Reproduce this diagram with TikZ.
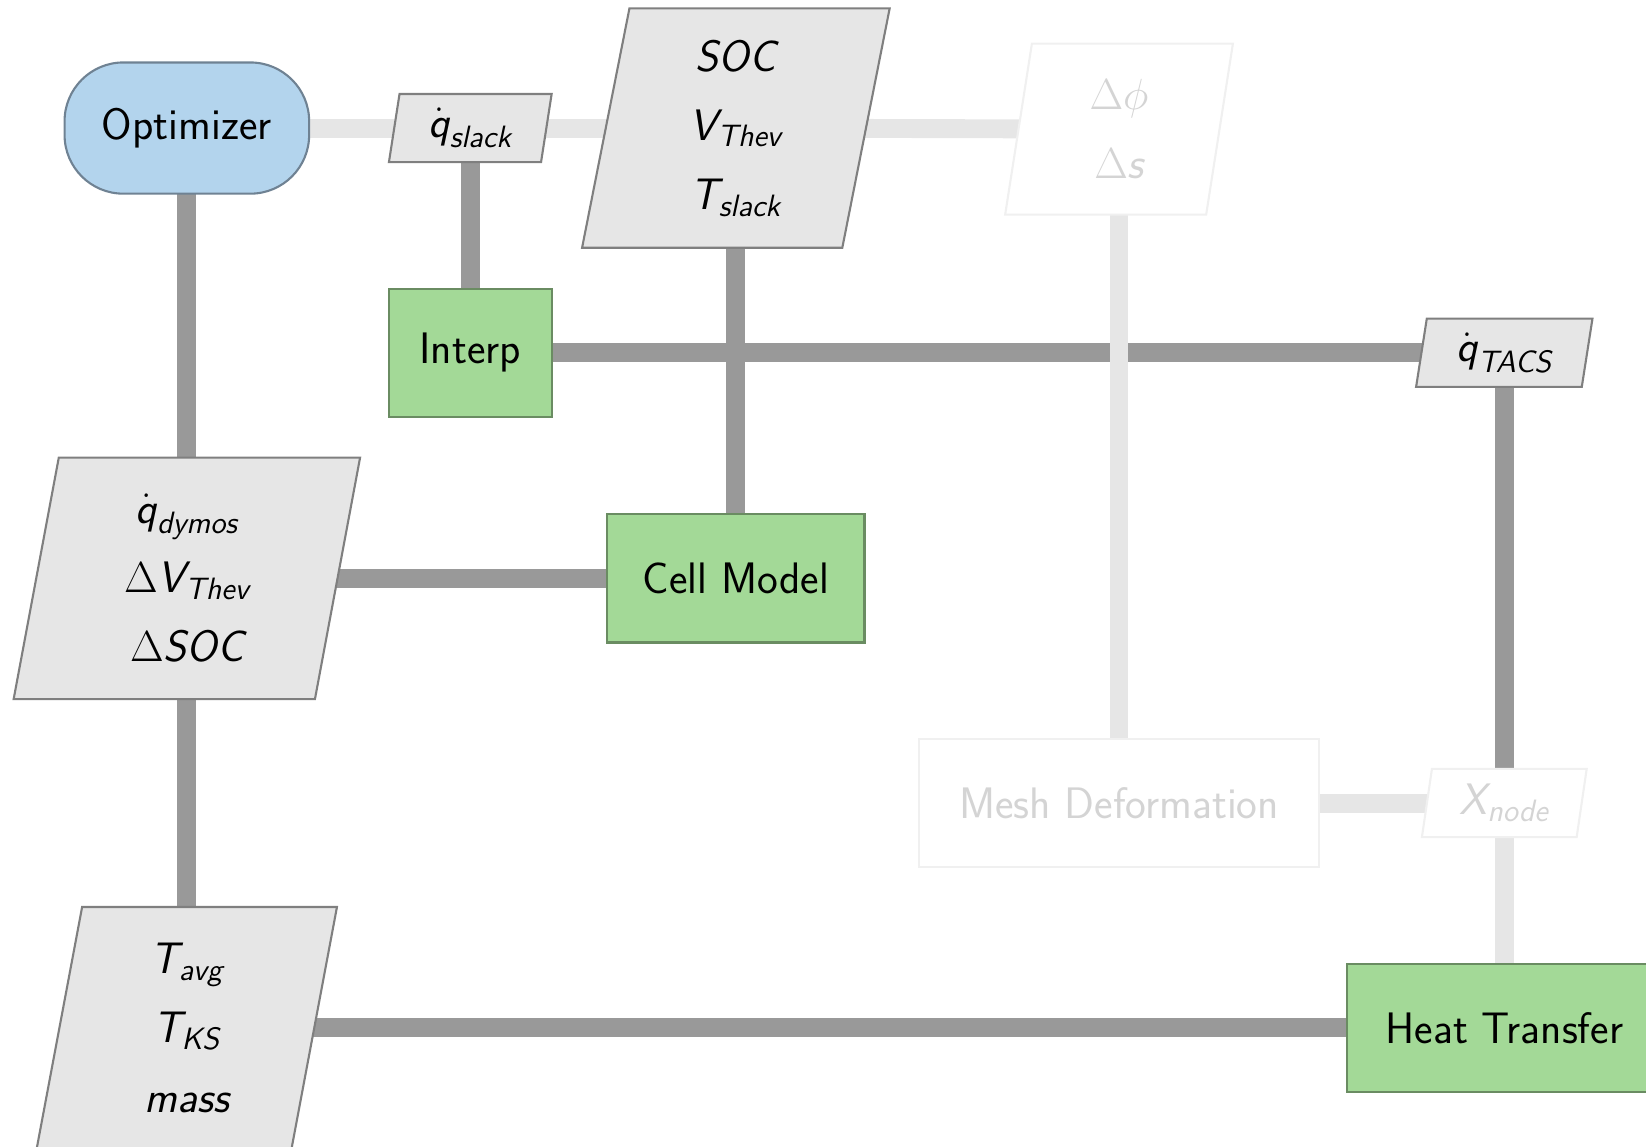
\documentclass[tikz,border=0pt]{standalone}
\usepackage{amsmath}
\usetikzlibrary{shapes.geometric}
\pgfdeclarelayer{background}
\pgfsetlayers{background,main}
\definecolor{optf}{HTML}{B3D4ED}
\definecolor{optb}{HTML}{6F8293}
\definecolor{grnf}{HTML}{A3D997}
\definecolor{grnb}{HTML}{6A8C62}
\definecolor{datf}{HTML}{E6E6E6}
\definecolor{datb}{HTML}{7F7F7F}
\definecolor{dkline}{HTML}{999999}
\definecolor{ltline}{HTML}{E6E6E6}
\definecolor{fadeb}{HTML}{F0F0F0}
\definecolor{fadet}{HTML}{D4D4D4}
\newcommand{\vv}[1]{\textit{#1}}
\tikzset{
  base/.style={font=\sffamily\fontsize{21}{33}\selectfont, align=center, line width=1pt, inner sep=0pt},
  optbox/.style={base, draw=optb, fill=optf, rounded corners=28pt, minimum width=116.5pt, minimum height=62.5pt},
  funcbox/.style={base, draw=grnb, fill=grnf, minimum width=#1, minimum height=61pt},
  fadefunc/.style={base, draw=fadeb, fill=white, text=fadet, minimum width=#1, minimum height=61pt},
  databox/.style 2 args={base, trapezium, trapezium left angle=75, trapezium right angle=105,
     trapezium stretches body, draw=datb, fill=datf, minimum width=#1, minimum height=#2},
  fadedata/.style 2 args={databox={#1}{#2}, draw=fadeb, fill=white, text=fadet},
  dk/.style={draw=dkline, line width=9pt},
  lt/.style={draw=ltline, line width=9pt},
}
\begin{document}
\begin{tikzpicture}[x=0.5pt, y=-0.5pt]
\useasboundingbox (0,0) rectangle (1568,1092);
% diagonal blocks
\node[optbox] (opt) at (178,122) {Optimizer};
\node[funcbox=77.5pt] (interp) at (448,336) {Interp};
\node[funcbox=122.5pt] (cell) at (701,551) {Cell Model};
\node[fadefunc=190.5pt] (mesh) at (1066,765) {Mesh Deformation};
\node[funcbox=150pt] (heat) at (1433,979) {Heat Transfer};
% data blocks
\node[databox={77.5pt}{32.5pt}] (qslack) at (448,122) {$\dot{\vv{q}}_{\vv{slack}}$};
\node[databox={146.5pt}{114pt}] (soc) at (701,122) {$\vv{SOC}$\\$\vv{V}_{\vv{Thev}}$\\$\vv{T}_{\vv{slack}}$};
\node[fadedata={108.5pt}{81.5pt}] (dphi) at (1066,123) {$\Delta\phi$\\$\Delta \vv{s}$};
\node[databox={84pt}{32.5pt}] (qtacs) at (1433,336) {$\dot{\vv{q}}_{\vv{TACS}}$};
\node[databox={165pt}{115pt}] (qdymos) at (178,551) {$\dot{\vv{q}}_{\vv{dymos}}$\\$\Delta \vv{V}_{\vv{Thev}}$\\$\Delta \vv{SOC}$};
\node[fadedata={78.5pt}{32.5pt}] (xnode) at (1433,765) {$\vv{X}_{\vv{node}}$};
\node[databox={143pt}{115pt}] (tavg) at (178,979) {$\vv{T}_{\vv{avg}}$\\$\vv{T}_{\vv{KS}}$\\$\vv{mass}$};
% connectors
\begin{pgfonlayer}{background}
\draw[dk] (opt.center) -- (qdymos.center);
\draw[dk] (qdymos.center) -- (tavg.center);
\draw[dk] (qslack.center) -- (interp.center);
\draw[dk] (interp.center) -- (qtacs.center);
\draw[dk] (soc.center) -- (cell.center);
\draw[dk] (qdymos.center) -- (cell.center);
\draw[dk] (qtacs.center) -- (xnode.center);
\draw[dk] (tavg.center) -- (heat.center);
\draw[lt] (opt.center) -- (qslack.center);
\draw[lt] (qslack.center) -- (soc.center);
\draw[lt] (soc.center) -- (dphi.center);
\draw[lt] (dphi.center) -- (mesh.center);
\draw[lt] (mesh.center) -- (xnode.center);
\draw[lt] (xnode.center) -- (heat.center);
\end{pgfonlayer}
\end{tikzpicture}
\end{document}
